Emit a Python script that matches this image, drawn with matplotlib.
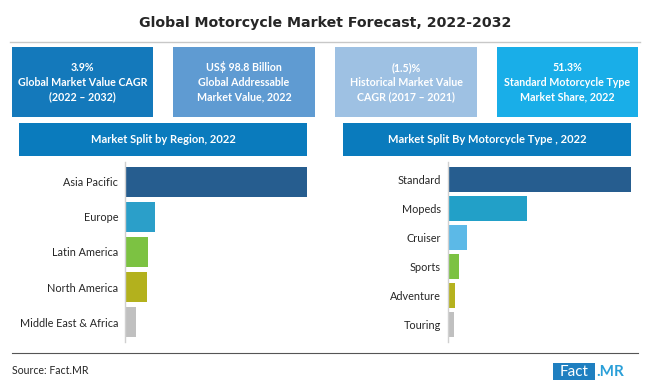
import matplotlib
matplotlib.use("Agg")
import matplotlib.pyplot as plt
from matplotlib.patches import Rectangle
from matplotlib.lines import Line2D

W, H = 650, 389

title = "Global Motorcycle Market Forecast, 2022-2032"

kpi_texts = [
    "3.9%\nGlobal Market Value CAGR\n(2022 \u2013 2032)",
    "US$ 98.8 Billion\nGlobal Addressable\nMarket Value, 2022",
    "(1.5)%\nHistorical Market Value\nCAGR (2017 \u2013 2021)",
    "51.3%\nStandard Motorcycle Type\nMarket Share, 2022",
]
kpi_colors = ["#1479bb", "#5f9bd2", "#9ec1e3", "#19aee8"]

region_title = "Market Split by Region, 2022"
regions = ["Asia Pacific", "Europe", "Latin America", "North America", "Middle East & Africa"]
region_values = [68.0, 11.2, 8.6, 8.2, 4.1]
region_colors = ["#265d8f", "#2b9fc9", "#7cc242", "#b3b11d", "#c0c0c0"]

type_title = "Market Split By Motorcycle Type , 2022"
types = ["Standard", "Mopeds", "Cruiser", "Sports", "Adventure", "Touring"]
type_values = [51.3, 22.1, 5.3, 3.1, 2.0, 1.7]
type_colors = ["#265d8f", "#22a0c8", "#5cb9e7", "#7cc242", "#b5b21e", "#c0c0c0"]

source = "Source: Fact.MR"

FONT = "Lato"

fig = plt.figure(figsize=(W / 100, H / 100), dpi=100)
fig.patch.set_facecolor("white")


def fx(x):
    return x / W


def fy(y):
    return 1 - y / H


def rect(x0, y0, x1, y1, color, **kw):
    fig.add_artist(Rectangle((fx(x0), fy(y1)), fx(x1) - fx(x0), fy(y0) - fy(y1),
                             transform=fig.transFigure, facecolor=color,
                             edgecolor="none", **kw))


# Title
fig.text(fx(325), fy(23), title, ha="center", va="center", fontsize=10.2,
         fontweight="bold", color="#262626", family="DejaVu Sans")
fig.add_artist(Line2D([fx(10), fx(640)], [fy(42), fy(42)], transform=fig.transFigure,
                      color="#c8c8c8", lw=1))

# KPI boxes
box_x = [(12, 153), (173, 315), (335, 477), (497, 638)]
for (x0, x1), txt, c in zip(box_x, kpi_texts, kpi_colors):
    rect(x0, 47, x1, 117, c)
    fig.text(fx((x0 + x1) / 2), fy(82), txt, ha="center", va="center",
             fontsize=7.7, fontweight="bold", color="white", family=FONT,
             linespacing=1.42)

# Section headers
rect(19, 123, 307, 156, "#0a7bbd")
fig.text(fx(163), fy(139.5), region_title, ha="center", va="center", fontsize=8.0,
         fontweight="bold", color="white", family=FONT)
rect(343, 123, 631, 156, "#0a7bbd")
fig.text(fx(487), fy(139.5), type_title, ha="center", va="center", fontsize=8.0,
         fontweight="bold", color="white", family=FONT)


def bar_axes(x0, x1, y0, y1, cats, vals, colors, pitch_margin):
    ax = fig.add_axes([fx(x0), fy(y1), fx(x1) - fx(x0), fy(y0) - fy(y1)])
    n = len(cats)
    pos = list(range(n))
    ax.barh(pos, vals, height=0.86, color=colors)
    ax.set_xlim(0, vals[0])
    ax.set_ylim(n - 1 + pitch_margin, -pitch_margin)
    ax.set_yticks(pos)
    ax.set_yticklabels(cats, fontsize=7.8, color="#262626", family=FONT)
    ax.tick_params(axis="y", length=0, pad=5)
    ax.set_xticks([])
    for s in ["top", "right", "bottom"]:
        ax.spines[s].set_visible(False)
    ax.spines["left"].set_color("#d0d0d0")
    ax.spines["left"].set_linewidth(1)
    ax.patch.set_alpha(0)
    return ax


bar_axes(125, 307, 162, 342, regions, region_values, region_colors, 0.571)
bar_axes(448, 631, 162, 342, types, type_values, type_colors, 0.6)

# Footer
fig.add_artist(Line2D([fx(12), fx(638)], [fy(353), fy(353)], transform=fig.transFigure,
                      color="#555555", lw=0.8))
fig.text(fx(12), fy(371), source, ha="left", va="center", fontsize=7.6,
         color="#262626", family=FONT)
rect(553, 363, 595, 380, "#1f7fc0")
fig.text(fx(574), fy(371.5), "Fact", ha="center", va="center", fontsize=11,
         color="white", family=FONT)
fig.text(fx(596), fy(371.5), ".MR", ha="left", va="center", fontsize=11,
         fontweight="bold", color="#2a9fd8", family=FONT)

fig.savefig("out.png", dpi=100)
